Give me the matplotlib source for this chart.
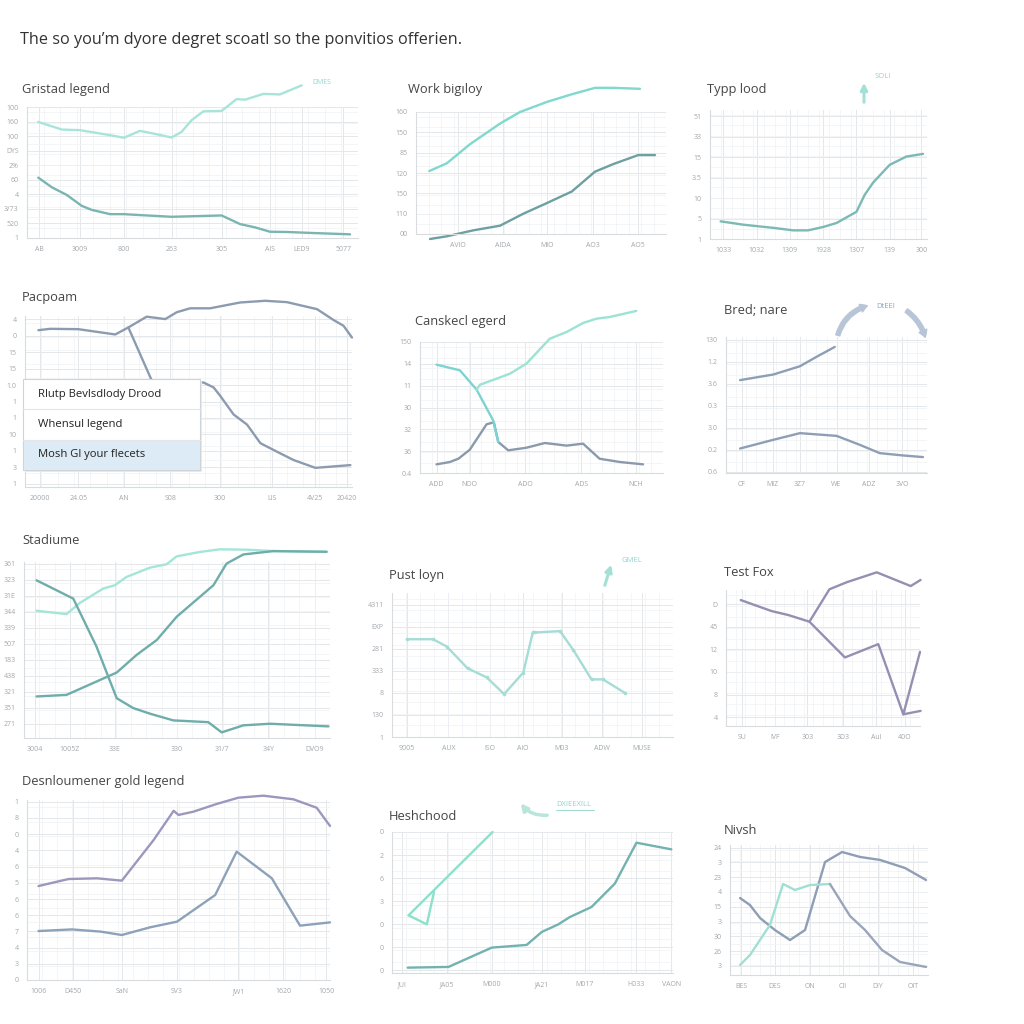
import numpy as np
import matplotlib
matplotlib.use("Agg")
import matplotlib.pyplot as plt
from matplotlib.patches import Rectangle
from matplotlib.ticker import MultipleLocator

plt.rcParams['font.family'] = ['Open Sans', 'DejaVu Sans']

# ---- data (each panel on a 0-100 scale) ----
heading = "The so you\u2019m dyore degret scoatl so the ponvitios offerien."

# Gristad legend
gristad_top_x = [3.4, 10.5, 16, 25.1, 29.3, 34.1, 39.2, 43.7, 46.7, 49.7, 53.3, 58.8, 63.3, 65.9, 71.4, 76.4, 83]
gristad_top_y = [88.6, 82.8, 82.3, 78.5, 76.5, 81.8, 79.2, 76.7, 81, 89.9, 96.7, 97, 106, 105.6, 110, 109.6, 116.5]
gristad_low_x = [3.4, 7.5, 12, 16.5, 19.5, 25.1, 29.3, 34.1, 43.7, 58.8, 64.4, 68.9, 73.4, 78.4, 86.5, 97.6]
gristad_low_y = [46.1, 38.7, 32.9, 24.6, 21.5, 18.2, 18.2, 17.5, 16.2, 17.2, 10.6, 8.1, 4.8, 4.6, 3.8, 2.8]
gristad_xt = [3.7, 16, 29.3, 43.7, 58.8, 73.4, 83, 95.6]
gristad_xl = ["AB", "3009", "800", "263", "305", "AIS", "LED9", "5077"]
gristad_yl = ["1", "520", "3/73", "4", "60", "2%", "DYS", "100", "160", "100"]

# Work big loy
work_top_x = [5.3, 12.3, 21.6, 33.6, 41.6, 52.3, 61.6, 71.6, 78.9, 89.6]
work_top_y = [51.6, 57.9, 73.6, 90.5, 100, 108.2, 114.1, 119.8, 119.8, 119.0]
work_low_x = [5.6, 12.3, 22.9, 33.6, 42.9, 52.3, 62.3, 71.6, 78.9, 88.9, 95.6]
work_low_y = [-4.1, -1.9, 3.0, 6.8, 16.6, 25.3, 34.8, 51.1, 57.3, 64.7, 64.7]
work_xt = [16.9, 34.9, 52.3, 70.9, 88.9]
work_xl = ["AVIO", "AIDA", "MIO", "AO3", "AO5"]
work_yl = ["00", "110", "150", "120", "85", "150", "160"]

# Typp lood
typp_x = [4.9, 15.3, 29.9, 38.3, 45.2, 52.1, 58.3, 67.5, 71.3, 75.2, 82.8, 90.5, 98.2]
typp_y = [13.7, 11.1, 8.5, 6.7, 6.7, 9.3, 12.4, 21.1, 34.3, 43.8, 57.5, 63.9, 66.0]
typp_xt = [6.1, 21.5, 36.8, 52.1, 67.5, 82.8, 97.4]
typp_xl = ["1033", "1032", "1309", "1928", "1307", "139", "300"]
typp_yl = ["1", "5", "10", "3.5", "15", "33", "51"]

# Pacpoam
pac_a_x = [4.1, 7.7, 16.3, 27.6, 31.6, 37.2, 42.9, 46.4, 50.5, 56.6, 65.8, 73.5, 80.1, 89.3, 94.4, 97.4, 100]
pac_a_y = [91.7, 92.5, 92.3, 89.2, 93.3, 99.6, 98.2, 102.2, 104.5, 104.5, 107.9, 108.9, 108.1, 104, 97.6, 94.3, 87.4]
pac_b_x = [31.6, 38.8, 54.6, 57.7, 59.7, 63.8, 67.9, 72, 77, 82.1, 88.8, 99.5]
pac_b_y = [93.3, 62.1, 61.1, 58.2, 53.3, 42.4, 36.5, 25.6, 20.7, 15.8, 11.2, 12.8]
pac_xt = [4.6, 16.3, 30.3, 44.4, 59.7, 75.5, 88.8, 98.5]
pac_xl = ["20000", "24.05", "AN", "S08", "300", "LIS", "4V25", "20420"]
pac_yl = ["1", "3", "1", "10", "1", "1", "1.0", "15", "15", "0", "4"]
pac_legend = ["Rlutp Bevlsdlody Drood", "Whensul legend", "Mosh Gl your flecets"]

# Canskecl egerd
cans_mint_x = [23.3, 24.7, 31.5, 37, 43.8, 53.4, 60.3, 67.1, 72.6, 78.1, 89]
cans_mint_y = [63.6, 67.4, 72, 75.8, 83.5, 102.5, 107.6, 114.5, 117.8, 119.1, 123.7]
cans_teal_x = [6.8, 16.4, 23.3, 30.1, 32.2]
cans_teal_y = [82.7, 78.4, 63.6, 40.2, 23.7]
cans_grey_x = [6.8, 12.3, 15.8, 20.5, 27.4, 30.4, 32.2, 36.3, 43.8, 51.4, 60.3, 67.1, 73.9, 82.2, 91.8]
cans_grey_y = [6.6, 8.4, 10.9, 17.8, 37.2, 38.7, 23.7, 17.3, 19.3, 22.9, 20.9, 22.4, 10.9, 8.4, 6.6]
cans_xt = [6.8, 20.5, 43.2, 66.4, 88.8]
cans_xl = ["ADD", "NOO", "ADO", "ADS", "NCH"]
cans_yl = ["0.4", "36", "32", "30", "11", "14", "150"]

# Bred nare
bred_up_x = [7, 23.5, 36.8, 45, 54.1]
bred_up_y = [68.3, 72.4, 78.5, 85.4, 92.7]
bred_lo_x = [7, 23.5, 36.8, 55, 66.6, 76.5, 88.1, 98]
bred_lo_y = [18, 24.4, 29.3, 27.3, 20.7, 14.6, 12.9, 11.7]
bred_xt = [7.8, 23.2, 36.8, 55, 71.2, 87.7]
bred_xl = ["CF", "MIZ", "3Z7", "WE", "ADZ", "3VO"]
bred_yl = ["0.6", "0.2", "3.0", "0.3", "3.6", "1.2", "130"]

# Stadiume
stad_mint_x = [4.1, 13.9, 18.3, 25.9, 29.7, 33.5, 41.2, 46.6, 49.9, 57.5, 64, 72.8, 81.5, 98.9]
stad_mint_y = [72.3, 70.4, 76.8, 84.9, 86.8, 91.5, 96.8, 98.7, 103.2, 105.7, 107.2, 107, 106.2, 105.8]
stad_fall_x = [4.1, 16.1, 23.7, 30.3, 35.7, 41.2, 48.8, 60.2, 64.6, 71.7, 80.4, 99.5]
stad_fall_y = [89.6, 79.2, 51.9, 22.6, 17, 13.8, 10, 9, 3.2, 7.2, 8.1, 6.6]
stad_rise_x = [4.1, 13.9, 30.3, 36.8, 43.4, 49.9, 61.9, 66.2, 71.7, 81.5, 98.9]
stad_rise_y = [23.6, 24.5, 37.2, 47.2, 55.7, 68.9, 86.8, 99.1, 104.3, 106.2, 105.8]
stad_xt = [3.6, 15, 29.7, 49.9, 64.6, 79.8, 95.1]
stad_xl = ["3004", "1005Z", "33E", "330", "31/7", "34Y", "DVO9"]
stad_yl = ["271", "351", "321", "438", "183", "507", "339", "344", "31E", "323", "361"]

# Pust loyn
pust_x = [5.3, 14.6, 19.5, 26.9, 33.7, 39.9, 46.7, 50.1, 50.9, 59.8, 64.5, 71, 75.1, 82.8]
pust_y = [67.9, 67.9, 62.8, 47.7, 41.4, 29.8, 44.7, 72.6, 72.6, 73.5, 60.5, 40, 40, 30.7]
pust_xt = [5.3, 20.1, 34.9, 46.7, 60.4, 74.6, 88.8]
pust_xl = ["9005", "AUX", "ISO", "AlO", "M03", "ADW", "MUSE"]
pust_yl = ["1", "130", "8", "333", "281", "EXP", "4311"]

# Test Fox
fox_a_x = [7.6, 23.5, 32.1, 43, 53.3, 62.2, 77.7, 95.2, 100.3]
fox_a_y = [92.6, 84.5, 81.6, 76.7, 100.5, 105.7, 113, 102.9, 107.4]
fox_b_x = [43, 61.3, 78.5, 91.4, 100]
fox_b_y = [76.7, 50.4, 60.2, 8.6, 54.5]
fox_c_x = [91.4, 100.3]
fox_c_y = [8.6, 11.1]
fox_xt = [8.1, 25.3, 41.9, 60.5, 77.3, 92.3]
fox_xl = ["SU", "IVF", "303", "3D3", "Aul", "40O"]
fox_yl = ["4", "8", "10", "12", "45", "D"]

# Desnloumener gold legend
desn_up_x = [3.8, 13.7, 23.1, 31.3, 41.8, 48.4, 50, 54.9, 62.6, 69.8, 78, 87.9, 95.6, 100]
desn_up_y = [52.2, 56.1, 56.5, 55.2, 77.8, 94, 91.7, 93.5, 97.8, 101.3, 102.4, 100.4, 95.7, 85.6]
desn_lo_x = [3.8, 14.8, 24.2, 31.3, 40.7, 49.5, 62.1, 69.2, 80.8, 90.1, 100]
desn_lo_y = [27.2, 28.1, 26.9, 25, 29.3, 32.4, 47.2, 71.3, 56.5, 30.2, 32]
desn_xt = [3.8, 15.2, 31.3, 49.5, 69.8, 84.6, 98.7]
desn_xl = ["1006", "D450", "SaN", "SV3", "JW1", "1620", "1050"]
desn_yl = ["0", "3", "4", "7", "6", "6", "5", "6", "4", "0", "8", "1"]

# Heshchood
hesh_m1_x = [5.9, 35.8]
hesh_m1_y = [40.9, 100]
hesh_m2_x = [5.9, 12.4, 15]
hesh_m2_y = [40.9, 34.5, 57.9]
hesh_t_x = [5.6, 20.1, 35.5, 47.9, 53.3, 59.2, 63.3, 71, 79.3, 87, 99.4]
hesh_t_y = [3.8, 4.3, 18, 19.9, 29.1, 34.5, 39.7, 46.8, 63.4, 92.4, 87.7]
hesh_xt = [3.6, 19.5, 35.5, 53.3, 68.6, 87, 99.4]
hesh_xl = ["JUI", "JA05", "M000", "JA21", "M017", "H033", "VAON"]
hesh_yl = ["0", "0", "0", "3", "6", "2", "0"]

# Nivsh
niv_g1_x = [5.1, 10.1, 15.2, 22.7, 30.3, 37.9, 48, 56.6, 65.7, 75.8, 88.4, 99]
niv_g1_y = [59.2, 53.8, 43.8, 34.6, 26.9, 34.6, 86.9, 94.6, 90.8, 88.5, 82.3, 73.1]
niv_m_x = [5.1, 10.1, 20.2, 26.8, 32.8, 40.4, 50.5]
niv_m_y = [7.7, 15.4, 38.5, 70, 65.4, 69.2, 70]
niv_g2_x = [50.5, 60.6, 68.2, 76.8, 85.9, 99]
niv_g2_y = [70, 45.4, 34.6, 19.2, 10, 6.2]
niv_xt = [5.6, 22.7, 40.4, 57.1, 74.7, 92.4]
niv_xl = ["BES", "DES", "ON", "CII", "DIY", "OIT"]
niv_yl = ["3", "26", "30", "3", "15", "4", "23", "3", "24"]

# ---- figure ----
fig = plt.figure(figsize=(10.24, 10.24), dpi=100)
fig.patch.set_facecolor("white")


def px_rect(l, t, r, b):
    return [l / 1024, 1 - b / 1024, (r - l) / 1024, (b - t) / 1024]


def make_panel(box, xticks, xlabels, ylabels, yspan):
    ax = fig.add_axes(px_rect(*box))
    ax.set_xlim(0, 100)
    ax.set_ylim(0, 100)
    ax.set_xticks(xticks)
    ax.set_xticklabels(xlabels)
    ax.set_yticks(np.linspace(yspan[0], yspan[1], len(ylabels)))
    ax.set_yticklabels(ylabels)
    ax.xaxis.set_minor_locator(MultipleLocator(5))
    ax.yaxis.set_minor_locator(MultipleLocator(8))
    ax.grid(which="major", color="#e4e8eb", lw=0.7)
    ax.grid(which="minor", color="#f0f2f4", lw=0.5)
    ax.tick_params(which="both", length=0, labelsize=5, colors="#a3a8ad", pad=6)
    for s in ["top", "right"]:
        ax.spines[s].set_visible(False)
    for s in ["left", "bottom"]:
        ax.spines[s].set_color("#d8dcdf")
        ax.spines[s].set_linewidth(0.8)
    ax.set_axisbelow(True)
    return ax


def line(ax, x, y, color, lw=1.7):
    ax.plot(x, y, color=color, lw=lw, clip_on=False, solid_joinstyle="round",
            solid_capstyle="round")


ax = make_panel((27, 107, 358, 238), gristad_xt, gristad_xl, gristad_yl, (0, 100))
line(ax, gristad_top_x, gristad_top_y, "#a8e4da")
line(ax, gristad_low_x, gristad_low_y, "#7ab5b2")

ax = make_panel((416, 112, 666, 234), work_xt, work_xl, work_yl, (0, 100))
line(ax, work_top_x, work_top_y, "#7fd9cf")
line(ax, work_low_x, work_low_y, "#6e9fa3")

ax = make_panel((710, 110, 927, 239), typp_xt, typp_xl, typp_yl, (0, 95))
line(ax, typp_x, typp_y, "#7bbab4")

ax = make_panel((25, 316, 352, 487), pac_xt, pac_xl, pac_yl, (2, 98))
line(ax, pac_a_x, pac_a_y, "#8d9bb0")
line(ax, pac_b_x, pac_b_y, "#8d9bb0")

ax = make_panel((420, 342, 663, 473), cans_xt, cans_xl, cans_yl, (0, 100))
line(ax, cans_grey_x, cans_grey_y, "#8a9aab")
line(ax, cans_teal_x, cans_teal_y, "#7dd3d0")
line(ax, cans_mint_x, cans_mint_y, "#9be3d3")

ax = make_panel((726, 337, 927, 473), bred_xt, bred_xl, bred_yl, (1, 98))
line(ax, bred_up_x, bred_up_y, "#8e9fb5")
line(ax, bred_lo_x, bred_lo_y, "#8e9fb5")

ax = make_panel((24, 562, 330, 738), stad_xt, stad_xl, stad_yl, (8, 99))
line(ax, stad_mint_x, stad_mint_y, "#a3e6d8")
line(ax, stad_fall_x, stad_fall_y, "#6fadaa")
line(ax, stad_rise_x, stad_rise_y, "#6fadaa")

ax = make_panel((392, 593, 673, 737), pust_xt, pust_xl, pust_yl, (0, 92))
line(ax, pust_x, pust_y, "#a5dcd6")
ax.plot(pust_x, pust_y, "o", ms=1.6, color="#a5dcd6", clip_on=False)

ax = make_panel((726, 590, 920, 726), fox_xt, fox_xl, fox_yl, (6.6, 89.4))
line(ax, fox_a_x, fox_a_y, "#968fb2")
line(ax, fox_b_x, fox_b_y, "#968fb2")
line(ax, fox_c_x, fox_c_y, "#968fb2")

ax = make_panel((27, 800, 330, 980), desn_xt, desn_xl, desn_yl, (0, 99))
line(ax, desn_up_x, desn_up_y, "#9d97bd")
line(ax, desn_lo_x, desn_lo_y, "#8da2b8")

ax = make_panel((392, 832, 673, 973), hesh_xt, hesh_xl, hesh_yl, (2, 100))
line(ax, hesh_m1_x, hesh_m1_y, "#8de0cc")
line(ax, hesh_m2_x, hesh_m2_y, "#8de0cc")
line(ax, hesh_t_x, hesh_t_y, "#72b2b0")

ax = make_panel((730, 845, 928, 975), niv_xt, niv_xl, niv_yl, (7, 98))
line(ax, niv_g1_x, niv_g1_y, "#8f9db5")
line(ax, niv_m_x, niv_m_y, "#9fe0d2")
line(ax, niv_g2_x, niv_g2_y, "#9aa5bb")

# ---- overlay for titles, legend box and small annotations (pixel coords) ----
ov = fig.add_axes([0, 0, 1, 1])
ov.set_xlim(0, 1024)
ov.set_ylim(1024, 0)
ov.axis("off")
ov.set_zorder(10)

ov.text(20, 40, heading, fontsize=11.7, color="#333333", va="center")

titles = [("Gristad legend", 22, 89), ("Work bigıloy", 408, 90), ("Typp lood", 707, 90),
          ("Pacpoam", 22, 298), ("Canskecl egerd", 415, 322), ("Bred; nare", 724, 310),
          ("Stadiume", 22, 540), ("Pust loyn", 389, 575), ("Test Fox", 724, 572),
          ("Desnloumener gold legend", 22, 782), ("Heshchood", 389, 817), ("Nivsh", 724, 830)]
for t, x, y in titles:
    ov.text(x, y, t, fontsize=9.3, color="#454545", va="center")

# legend box in Pacpoam
ov.add_patch(Rectangle((25, 381), 177, 91, fc="#e9ecef", ec="none"))
ov.add_patch(Rectangle((23, 379), 177, 91, fc="white", ec="#cfd4d9", lw=0.8))
ov.add_patch(Rectangle((23.5, 440), 176, 29.5, fc="#dcebf5", ec="none"))
ov.plot([23, 200], [409, 409], color="#e3e6e9", lw=0.8)
ov.plot([23, 200], [440, 440], color="#e3e6e9", lw=0.8)
for i, lab in enumerate(pac_legend):
    ov.text(38, 394 + i * 30.5, lab, fontsize=8.1, color="#222222", va="center")

# small tags / arrows
ov.text(312, 83, "DMES", fontsize=5, color="#8fd8cf", va="center")
ov.annotate("", xy=(864, 80), xytext=(864, 105),
            arrowprops=dict(arrowstyle="-|>", color="#a5e0d6", lw=2.2))
ov.text(875, 77, "SOLI", fontsize=5.5, color="#8fd6cc", va="center")
ov.annotate("", xy=(870, 305), xytext=(837, 338),
            arrowprops=dict(arrowstyle="simple,head_width=0.6,tail_width=0.3",
                            color="#b7c5d6", connectionstyle="arc3,rad=-0.3"))
ov.annotate("", xy=(926, 340), xytext=(904, 309),
            arrowprops=dict(arrowstyle="simple,head_width=0.6,tail_width=0.3",
                            color="#b7c5d6", connectionstyle="arc3,rad=-0.2"))
ov.text(876, 306, "DtEEI", fontsize=5.5, color="#8aa3c4", va="center")
ov.annotate("", xy=(612, 562), xytext=(604, 588),
            arrowprops=dict(arrowstyle="-|>", color="#a5e0d6", lw=2.2))
ov.text(621, 560, "GMEL", fontsize=5.5, color="#8fd6cc", va="center")
ov.annotate("", xy=(519, 801), xytext=(550, 815),
            arrowprops=dict(arrowstyle="-|>", color="#b9e6dc", lw=2.5,
                            connectionstyle="arc3,rad=-0.3"))
ov.text(556, 805, "DXIEEXILL", fontsize=5.5, color="#8fd6cc", va="center")
ov.plot([556, 594], [810, 810], color="#8fd6cc", lw=0.6)

fig.savefig("out.png", dpi=100, facecolor="white")
